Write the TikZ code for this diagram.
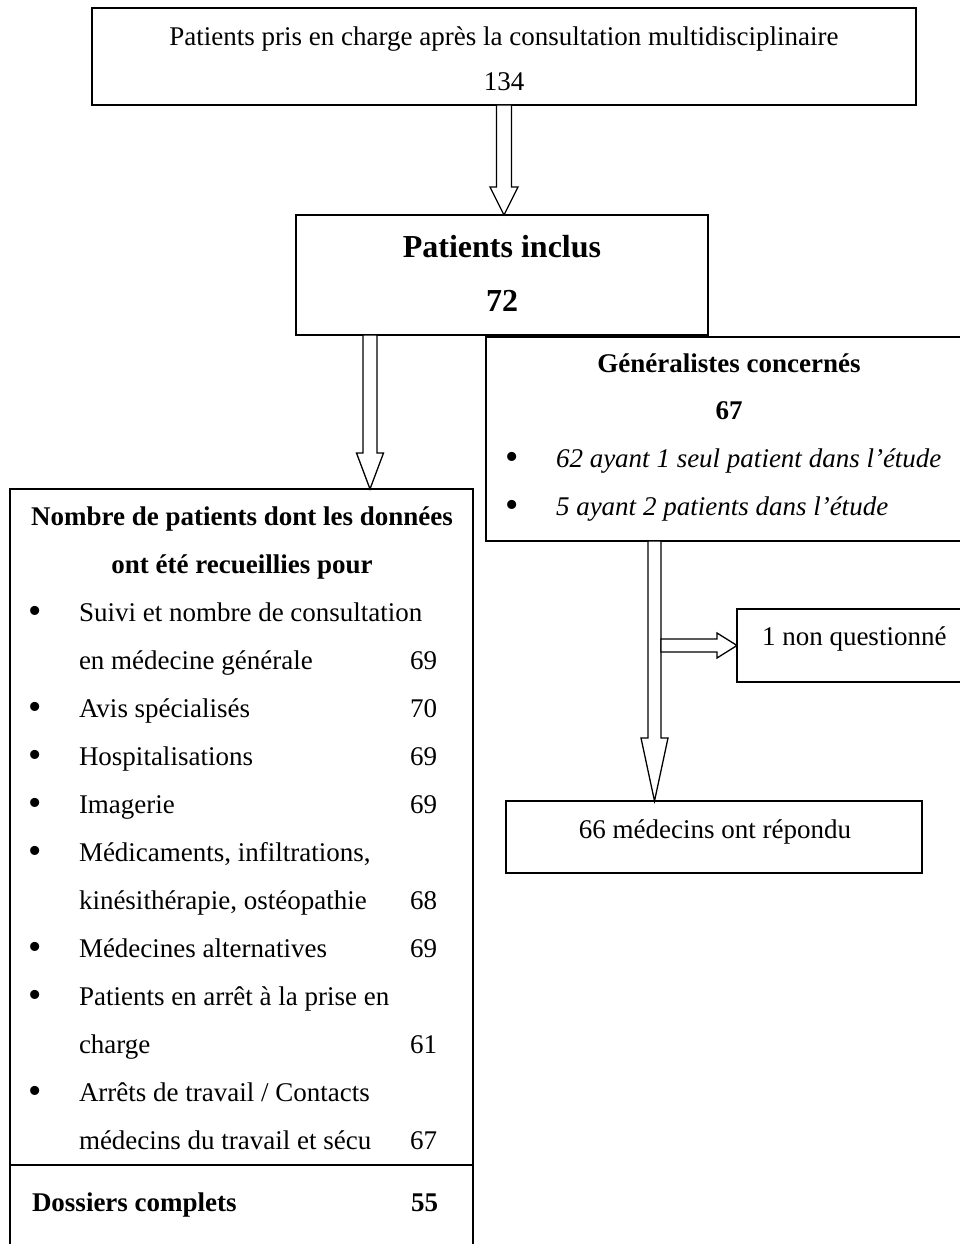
\documentclass[tikz,border=0pt]{standalone}
\usepackage{fontspec}
\setmainfont{Liberation Serif}
\usetikzlibrary{calc}
\tikzset{
 box/.style={draw, line width=1.3pt, rectangle, inner sep=0pt, outer sep=0pt, fill=white},
 blk/.style={draw, line width=1.3pt, fill=white, line join=miter},
 txt/.style={inner sep=0pt, outer sep=0pt, anchor=base},
 txtl/.style={txt, anchor=base west},
 txtr/.style={txt, anchor=base east},
 bul/.style={txt, anchor=base, font=\fontsize{38}{40}\selectfont},
 bf/.style={font=\fontsize{27}{32}\selectfont\bfseries},
 itl/.style={font=\fontsize{27}{32}\selectfont\itshape},
 big/.style={font=\fontsize{32}{38}\selectfont\bfseries},
}
\newcommand{\dnblock}[5]{\draw[blk] let \p1=(#1), \p2=(#2) in (\x1-#3pt,\y1) -- (\x1-#3pt,\y2+#5pt) -- (\x1-#4pt,\y2+#5pt) -- (\x1,\y2) -- (\x1+#4pt,\y2+#5pt) -- (\x1+#3pt,\y2+#5pt) -- (\x1+#3pt,\y1) -- cycle;}
\newcommand{\rtblock}[5]{\draw[blk] let \p1=(#1), \p2=(#2) in (\x1,\y1+#3pt) -- (\x2-#5pt,\y1+#3pt) -- (\x2-#5pt,\y1+#4pt) -- (\x2,\y1) -- (\x2-#5pt,\y1-#4pt) -- (\x2-#5pt,\y1-#3pt) -- (\x1,\y1-#3pt) -- cycle;}
\begin{document}
\begin{tikzpicture}[x=1pt,y=-1pt, font=\fontsize{27}{32}\selectfont]
\useasboundingbox (0,0) rectangle (960,1244);
\fill[white] (0,0) rectangle (960,1244);
% boxes
\node[box, minimum width=824pt, minimum height=97pt] (top) at (504,56.5) {};
\node[box, minimum width=412pt, minimum height=120pt] (incl) at (502,275) {};
\node[box, minimum width=463pt, minimum height=761pt] (data) at (241.5,869.5) {};
\node[box, minimum width=479pt, minimum height=204pt] (gen) at (725.5,439) {};
\node[box, minimum width=228pt, minimum height=73pt] (nonq) at (851,645.5) {};
\node[box, minimum width=416pt, minimum height=72pt] (rep) at (714,837) {};
\coordinate (div) at (0,1165);
\draw[line width=1.3pt] (div -| data.west) -- (div -| data.east);
% arrow helper coordinates
\coordinate (a2x) at (370,0);
\coordinate (a3x) at (654.5,0);
\coordinate (a4s) at ($(a3x |- nonq.west)+(6.5,0)$);
% block arrows
\dnblock{top.south}{top.south |- incl.north}{7.5}{14}{28}
\dnblock{incl.south -| a2x}{data.north -| a2x}{7}{13.5}{36}
\dnblock{gen.south -| a3x}{rep.north -| a3x}{6.5}{13.5}{63}
\rtblock{a4s}{nonq.west}{6.5}{12.5}{20}
% top box text
\node[txt] (t1) at (504,46) {Patients pris en charge après la consultation multidisciplinaire};
\node[txt] (t2) at (504,91) {134};
% included
\node[txt, big] (t3) at (502,257) {Patients inclus};
\node[txt, big] (t4) at (502,311) {72};
% generalists
\node[txt, bf] (g1) at (729,372) {Généralistes concernés};
\node[txt, bf] (g2) at (729,419) {67};
\node[bul] (gb1) at (512,469) {•};
\node[txtl, itl] (g3) at (556,467) {62 ayant 1 seul patient dans l’étude};
\node[bul] (gb2) at (512,517) {•};
\node[txtl, itl] (g4) at (556,515) {5 ayant 2 patients dans l’étude};
% side boxes
\node[txtl] (n1) at (762,645) {1 non questionné};
\node[txt] (r1) at (715,838) {66 médecins ont répondu};
% data box
\node[txt, bf] (d1) at (242,525) {Nombre de patients dont les données};
\node[txt, bf] (d2) at (242,573) {ont été recueillies pour};
\node[bul] (b1) at (35,623) {•};
\node[txtl] (i1a) at (79,621) {Suivi et nombre de consultation};
\node[txtl] (i1b) at (79,669) {en médecine générale};
\node[txtr] (v1) at (437,669) {69};
\node[bul] (b2) at (35,719) {•};
\node[txtl] (i2) at (79,717) {Avis spécialisés};
\node[txtr] (v2) at (437,717) {70};
\node[bul] (b3) at (35,767) {•};
\node[txtl] (i3) at (79,765) {Hospitalisations};
\node[txtr] (v3) at (437,765) {69};
\node[bul] (b4) at (35,815) {•};
\node[txtl] (i4) at (79,813) {Imagerie};
\node[txtr] (v4) at (437,813) {69};
\node[bul] (b5) at (35,863) {•};
\node[txtl] (i5a) at (79,861) {Médicaments, infiltrations,};
\node[txtl] (i5b) at (79,909) {kinésithérapie, ostéopathie};
\node[txtr] (v5) at (437,909) {68};
\node[bul] (b6) at (35,959) {•};
\node[txtl] (i6) at (79,957) {Médecines alternatives};
\node[txtr] (v6) at (437,957) {69};
\node[bul] (b7) at (35,1007) {•};
\node[txtl] (i7a) at (79,1005) {Patients en arrêt à la prise en};
\node[txtl] (i7b) at (79,1053) {charge};
\node[txtr] (v7) at (437,1053) {61};
\node[bul] (b8) at (35,1103) {•};
\node[txtl] (i8a) at (79,1101) {Arrêts de travail / Contacts};
\node[txtl] (i8b) at (79,1149) {médecins du travail et sécu};
\node[txtr] (v8) at (437,1149) {67};
\node[txtl, bf] (dc) at (32,1211) {Dossiers complets};
\node[txtr, bf] (dv) at (438,1211) {55};
\end{tikzpicture}
\end{document}
